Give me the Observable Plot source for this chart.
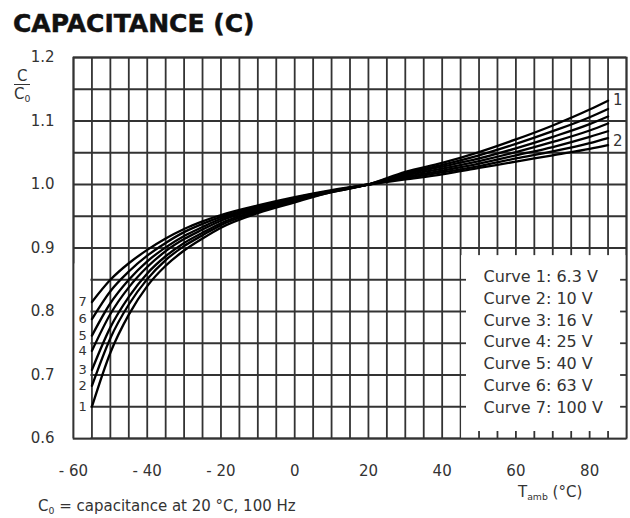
<!DOCTYPE html>
<html>
<head>
<meta charset="utf-8">
<script src="https://cdn.jsdelivr.net/npm/d3@7"></script>
<script src="https://cdn.jsdelivr.net/npm/@observablehq/plot@0.6"></script>
<style>
  body { margin: 0; background: #fff; font-family: "DejaVu Sans", sans-serif; }
  #wrap { position: relative; width: 630px; height: 518px; overflow: hidden; }
  #wrap svg { position: absolute; left: 0; top: 0; }
  .title { position: absolute; left: 13px; top: 11px; font: bold 25px/25px "DejaVu Sans", sans-serif; color: #111; white-space: nowrap; -webkit-text-stroke: 0.5px #111; }
  .ylab { position: absolute; left: 14px; top: 68px; font: 15px/16px "DejaVu Sans", sans-serif; color: #333; text-align: center; }
  .ylab .den { border-top: 1.5px solid #333; padding-top: 1px; }
  .xlab { position: absolute; left: 518px; top: 485px; font: 15px/15px "DejaVu Sans", sans-serif; color: #333; white-space: nowrap; }
  .caption { position: absolute; left: 38px; top: 499px; font: 15px/15px "DejaVu Sans", sans-serif; color: #333; white-space: nowrap; }
  sub { font-size: 0.62em; vertical-align: -0.3em; line-height: 0; }
</style>
</head>
<body>
<div id="wrap">
  <div class="title">CAPACITANCE (C)</div>
  <div class="ylab"><div>C</div><div class="den">C<sub>0</sub></div></div>
  <div class="xlab">T<sub>amb</sub> (°C)</div>
  <div class="caption">C<sub>0</sub> = capacitance at 20 °C, 100 Hz</div>
</div>
<script>
// ---- data ----
const temps = [-55, -50, -45, -40, -35, -30, -25, -20, -10, 0, 10, 20, 30, 40, 50, 60, 70, 80, 85];
const curve1 = [0.650, 0.735, 0.795, 0.840, 0.872, 0.896, 0.915, 0.932, 0.955, 0.972, 0.988, 1.000, 1.020, 1.034, 1.051, 1.071, 1.093, 1.118, 1.132];
const curve2 = [0.683, 0.758, 0.811, 0.851, 0.881, 0.903, 0.920, 0.936, 0.957, 0.974, 0.988, 1.000, 1.018, 1.031, 1.046, 1.064, 1.084, 1.106, 1.119];
const curve3 = [0.708, 0.775, 0.823, 0.860, 0.887, 0.908, 0.924, 0.939, 0.959, 0.975, 0.989, 1.000, 1.016, 1.028, 1.041, 1.057, 1.075, 1.095, 1.107];
const curve4 = [0.738, 0.796, 0.838, 0.870, 0.895, 0.914, 0.929, 0.943, 0.961, 0.976, 0.989, 1.000, 1.014, 1.025, 1.037, 1.051, 1.067, 1.085, 1.096];
const curve5 = [0.762, 0.813, 0.850, 0.879, 0.901, 0.919, 0.933, 0.946, 0.963, 0.977, 0.990, 1.000, 1.012, 1.022, 1.033, 1.046, 1.059, 1.075, 1.084];
const curve6 = [0.788, 0.832, 0.863, 0.888, 0.908, 0.925, 0.938, 0.949, 0.965, 0.979, 0.990, 1.000, 1.010, 1.019, 1.029, 1.041, 1.052, 1.065, 1.073];
const curve7 = [0.815, 0.850, 0.876, 0.897, 0.915, 0.930, 0.942, 0.952, 0.967, 0.980, 0.991, 1.000, 1.008, 1.016, 1.026, 1.036, 1.046, 1.056, 1.062];
const curveNames = ["1", "2", "3", "4", "5", "6", "7"];
const voltages = ["6.3 V", "10 V", "16 V", "25 V", "40 V", "63 V", "100 V"];
const rightLabels = ["1", "2"];
const rightLabelValues = [1.133, 1.068];
const xTicks = [-60, -40, -20, 0, 20, 40, 60, 80];
const yTicks = [0.6, 0.7, 0.8, 0.9, 1.0, 1.1, 1.2];

// ---- layout constants ----
const gridColor = "#333";
const gridWidth = 1.8;
const legendBox = {x1: 45, x2: 90, y1: 0.6, y2: 0.888};
const labelColumn = {x1: -60, x2: -55, y1: 0.6, y2: 0.875};
const legendTextX = 51.2, legendTopY = 0.855, legendStepY = 0.0345;

// ---- derived tables ----
const seriesValues = [curve1, curve2, curve3, curve4, curve5, curve6, curve7];
const curves = curveNames.map((name, i) => ({name, values: seriesValues[i]}));
const rows = curves.flatMap(c => temps.map((t, j) => ({curve: c.name, t, v: c.values[j]})));
const legendLines = curveNames.map((n, i) => `Curve ${n}: ${voltages[i]}`);
const rightLabelRows = rightLabels.map((t, i) => ({t, v: rightLabelValues[i]}));
const gridX = d3.range(-60, 91, 5);
const gridY = d3.range(0, 13).map(i => +(0.6 + i * 0.05).toFixed(2));
const stubX = gridX.filter(x => x > legendBox.x1 && x < legendBox.x2);
const stubY = gridY.filter(y => y > legendBox.y1 && y < legendBox.y2);

const chart = Plot.plot({
  width: 630,
  height: 518,
  marginLeft: 73,
  marginRight: 4,
  marginTop: 57,
  marginBottom: 80,
  style: {fontFamily: "DejaVu Sans, sans-serif", fontSize: "15px", color: "#333", background: "transparent", overflow: "visible"},
  x: {domain: [-60, 90], ticks: xTicks, tickSize: 0, tickPadding: 27, tickFormat: d => d < 0 ? "- " + (-d) : String(d), label: null},
  y: {domain: [0.6, 1.2], ticks: yTicks, tickSize: 0, tickPadding: 19, tickFormat: d => d.toFixed(1), label: null},
  marks: [
    Plot.ruleX(gridX, {stroke: gridColor, strokeWidth: gridWidth}),
    Plot.ruleY(gridY, {stroke: gridColor, strokeWidth: gridWidth}),
    Plot.rect([legendBox], {x1: "x1", x2: "x2", y1: "y1", y2: "y2", fill: "white", insetLeft: 1}),
    Plot.rect([labelColumn], {x1: "x1", x2: "x2", y1: "y1", y2: "y2", fill: "white", insetLeft: 1, insetRight: 1}),
    Plot.ruleX(stubX, {y1: legendBox.y1, y2: legendBox.y1 + 0.011, stroke: gridColor, strokeWidth: gridWidth}),
    Plot.ruleY(stubY, {x1: legendBox.x1, x2: legendBox.x1 + 1.6, stroke: gridColor, strokeWidth: gridWidth}),
    Plot.ruleY(stubY, {x1: legendBox.x2 - 1.6, x2: legendBox.x2, stroke: gridColor, strokeWidth: gridWidth}),
    Plot.frame({stroke: gridColor, strokeWidth: gridWidth}),
    Plot.line(rows, {x: "t", y: "v", z: "curve", stroke: "#000", strokeWidth: 2.3, curve: "monotone-x"}),
    Plot.text(curves, {x: -57.5, y: d => d.values[0], text: "name", fontSize: 13, fill: "#333"}),
    Plot.text(rightLabelRows, {x: 87.6, y: "v", text: "t", fontSize: 15, fill: "#333"}),
    Plot.text(legendLines, {x: legendTextX, y: (d, i) => legendTopY - i * legendStepY, text: d => d, textAnchor: "start", fontSize: 16, fill: "#333"})
  ]
});
document.getElementById("wrap").prepend(chart);
</script>
</body>
</html>
